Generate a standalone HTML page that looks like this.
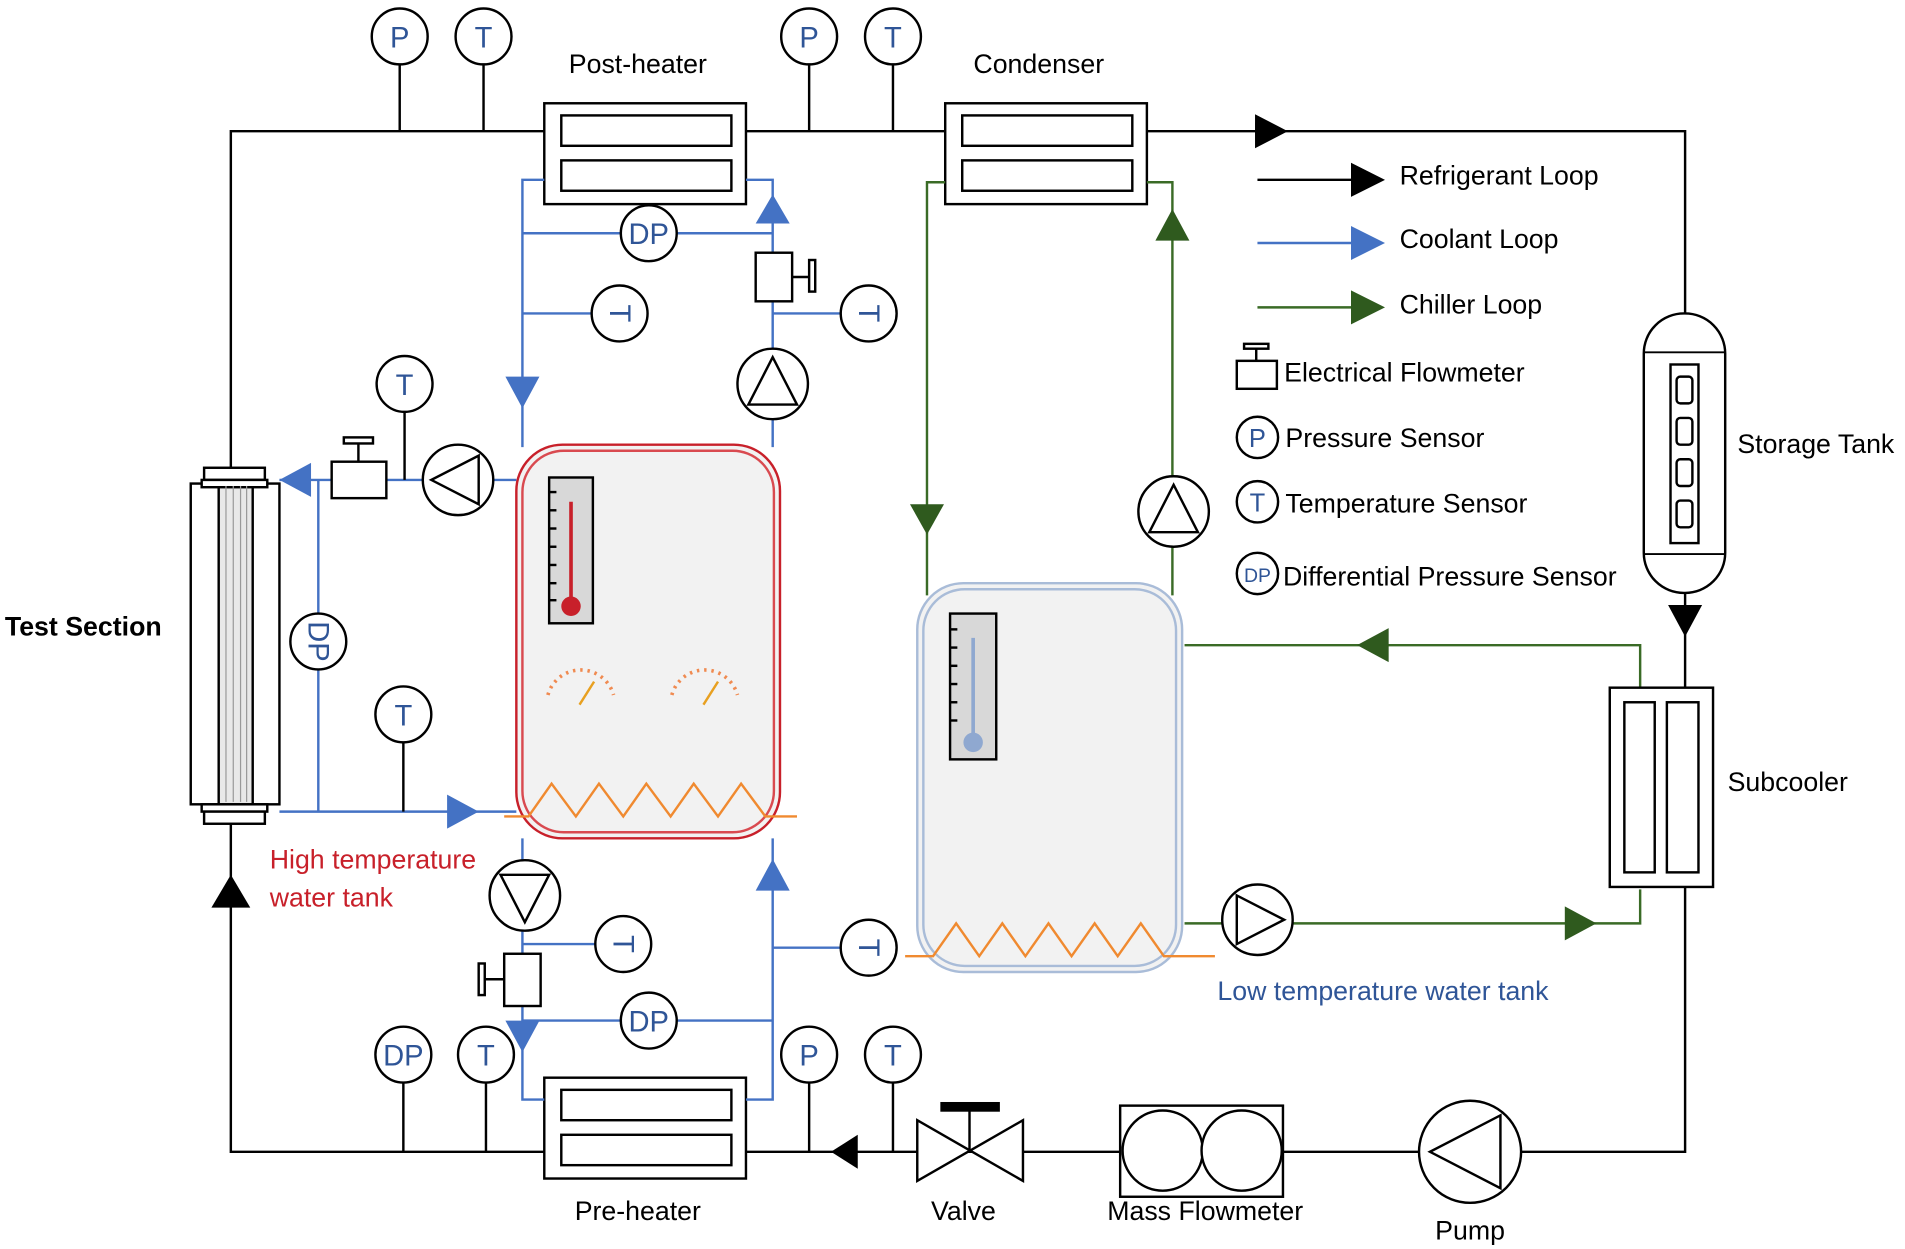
<!DOCTYPE html>
<html><head><meta charset="utf-8"><style>
html,body{margin:0;padding:0;background:#fff;}
svg{display:block}
text{font-family:"Liberation Sans","DejaVu Sans",sans-serif;}
</style></head><body>
<svg width="1905" height="1249" viewBox="0 0 1568 1028" preserveAspectRatio="none" xmlns="http://www.w3.org/2000/svg">
<defs>
<g id="ptri"><circle r="29" fill="#fff" stroke="#000" stroke-width="2"/><polygon points="-17,-20 -17,20 22,0" fill="#fff" stroke="#000" stroke-width="2"/></g>
<g id="fm"><rect x="-15" y="-18" width="30" height="36" fill="#fff" stroke="#000" stroke-width="2"/></g>
</defs>
<rect width="1568" height="1028" fill="#fff"/>
<!-- Refrigerant loop -->
<g stroke="#000" stroke-width="2" fill="none">
<path d="M190,388 V108 H1387 V948 H190 V678"/>
<line x1="329" y1="53" x2="329" y2="108"/><line x1="398" y1="53" x2="398" y2="108"/>
<line x1="666" y1="53" x2="666" y2="108"/><line x1="735" y1="53" x2="735" y2="108"/>
<line x1="332" y1="891" x2="332" y2="948"/><line x1="400" y1="891" x2="400" y2="948"/>
<line x1="666" y1="891" x2="666" y2="948"/><line x1="735" y1="891" x2="735" y2="948"/>
</g>
<polygon points="1033,94 1060,108 1033,122" fill="#000"/>
<polygon points="174,747 190,720 206,747" fill="#000"/>
<polygon points="1373,498 1401,498 1387,524" fill="#000"/>
<polygon points="706,934 684,948 706,962" fill="#000"/>
<!-- sensors -->
<g fill="#fff" stroke="#000" stroke-width="2">
<circle cx="329" cy="30" r="23"/><circle cx="398" cy="30" r="23"/><circle cx="666" cy="30" r="23"/><circle cx="735" cy="30" r="23"/>
<circle cx="332" cy="868" r="23"/><circle cx="400" cy="868" r="23"/><circle cx="666" cy="868" r="23"/><circle cx="735" cy="868" r="23"/>
</g>
<g fill="#2f5597" font-size="24" text-anchor="middle">
<text x="329" y="39">P</text><text x="398" y="39">T</text><text x="666" y="39">P</text><text x="735" y="39">T</text>
<text x="332" y="877">DP</text><text x="400" y="877">T</text><text x="666" y="877">P</text><text x="735" y="877">T</text>
</g>
<!-- Heat exchangers -->
<g fill="#fff" stroke="#000" stroke-width="2">
<rect x="448" y="85" width="166" height="83"/><rect x="462" y="95" width="140" height="25"/><rect x="462" y="132" width="140" height="25"/>
<rect x="778" y="85" width="166" height="83"/><rect x="792" y="95" width="140" height="25"/><rect x="792" y="132" width="140" height="25"/>
<rect x="448" y="887" width="166" height="83"/><rect x="462" y="897" width="140" height="25"/><rect x="462" y="934" width="140" height="25"/>
</g>
<!-- Coolant loop (blue) -->
<g stroke="#4472c4" stroke-width="2" fill="none">
<path d="M448,148 H430 V368"/><path d="M614,148 H636 V368"/>
<line x1="430" y1="192" x2="636" y2="192"/><line x1="430" y1="258" x2="488" y2="258"/><line x1="636" y1="258" x2="692" y2="258"/>
<line x1="230" y1="395" x2="425" y2="395"/><line x1="262" y1="395" x2="262" y2="668"/>
<line x1="230" y1="668" x2="425" y2="668"/>
<path d="M430,690 V905 H448"/><path d="M636,690 V905 H614"/>
<line x1="430" y1="777" x2="490" y2="777"/><line x1="430" y1="840" x2="636" y2="840"/><line x1="636" y1="780" x2="692" y2="780"/>
</g>
<g stroke="#000" stroke-width="2">
<line x1="333" y1="339" x2="333" y2="395"/><line x1="332" y1="611" x2="332" y2="668"/>
</g>
<g fill="#4472c4">
<polygon points="622,184 650,184 636,160"/><polygon points="416,310 444,310 430,336"/>
<polygon points="256,381 256,409 230,395"/><polygon points="368,654 368,682 394,668"/>
<polygon points="622,733 650,733 636,707"/><polygon points="416,840 444,840 430,866"/>
</g>
<!-- Green chiller loop -->
<g stroke="#3a6b26" stroke-width="2" fill="none">
<path d="M778,150 H763 V490"/><path d="M944,150 H965 V490"/>
<path d="M975,531 H1350 V566"/><path d="M975,760 H1350 V732"/>
</g>
<g fill="#2f5a1e">
<polygon points="749,415 777,415 763,440"/><polygon points="951,198 979,198 965,172"/>
<polygon points="1143,517 1143,545 1117,531"/><polygon points="1288,746 1288,774 1314,760"/>
</g>
<!-- pumps -->
<use href="#ptri" transform="translate(377,395) rotate(180)"/>
<use href="#ptri" transform="translate(636,316) rotate(-90)"/>
<use href="#ptri" transform="translate(432,737) rotate(90)"/>
<use href="#ptri" transform="translate(966,421) rotate(-90)"/>
<use href="#ptri" transform="translate(1035,757)"/>
<g transform="translate(1210,948) rotate(180)"><circle r="42" fill="#fff" stroke="#000" stroke-width="2"/><polygon points="-25,-30 -25,30 33,0" fill="#fff" stroke="#000" stroke-width="2"/></g>
<!-- flowmeters -->
<g fill="#fff" stroke="#000" stroke-width="2">
<rect x="273" y="380" width="45" height="30"/><line x1="295" y1="380" x2="295" y2="364"/><rect x="283" y="360" width="24" height="5"/>
<rect x="622" y="208" width="30" height="40"/><line x1="652" y1="228" x2="668" y2="228"/><rect x="666" y="214" width="5" height="26"/>
<rect x="415" y="785" width="30" height="43"/><line x1="415" y1="806" x2="399" y2="806"/><rect x="394" y="793" width="5" height="26"/>
</g>
<!-- T / DP sensors in coolant/chiller -->
<g fill="#fff" stroke="#000" stroke-width="2">
<circle cx="333" cy="316" r="23"/><circle cx="332" cy="588" r="23"/><circle cx="262" cy="528" r="23"/>
<circle cx="534" cy="192" r="23"/><circle cx="510" cy="258" r="23"/><circle cx="715" cy="258" r="23"/>
<circle cx="513" cy="777" r="23"/><circle cx="534" cy="840" r="23"/><circle cx="715" cy="780" r="23"/>
</g>
<g fill="#2f5597" font-size="24" text-anchor="middle">
<text x="333" y="325">T</text><text x="332" y="597">T</text>
<text x="262" y="528" transform="rotate(90 262 528)" dy="8">DP</text>
<text x="534" y="201">DP</text><text x="534" y="849">DP</text>
<text x="510" y="258" transform="rotate(90 510 258)" dy="8">T</text>
<text x="715" y="258" transform="rotate(90 715 258)" dy="8">T</text>
<text x="513" y="777" transform="rotate(90 513 777)" dy="8">T</text>
<text x="715" y="780" transform="rotate(90 715 780)" dy="8">T</text>
</g>
<!-- Test section -->
<g stroke="#000" stroke-width="2" fill="#fff">
<rect x="157" y="398" width="73" height="264"/>
<rect x="180" y="398" width="28" height="264" fill="#e8e8e8"/>
<rect x="168" y="385" width="50" height="10"/><rect x="166" y="395" width="54" height="6"/>
<rect x="166" y="662" width="54" height="6"/><rect x="168" y="668" width="50" height="10"/>
</g>
<g stroke="#999" stroke-width="1">
<line x1="186" y1="400" x2="186" y2="660"/><line x1="192" y1="400" x2="192" y2="660"/><line x1="198" y1="400" x2="198" y2="660"/><line x1="203" y1="400" x2="203" y2="660"/>
</g>
<!-- Red tank -->
<rect x="425" y="366" width="217" height="324" rx="38" fill="#f2f2f2" stroke="#c8202a" stroke-width="2"/>
<rect x="430" y="371" width="207" height="314" rx="34" fill="none" stroke="#d94a50" stroke-width="2"/>
<rect x="452" y="393" width="36" height="120" fill="#d8d8d8" stroke="#000" stroke-width="2"/>
<line x1="470" y1="413" x2="470" y2="495" stroke="#c8202a" stroke-width="3"/><circle cx="470" cy="499" r="8" fill="#c8202a"/>
<g stroke="#000" stroke-width="2"><line x1="452" y1="405" x2="458" y2="405"/><line x1="452" y1="420" x2="458" y2="420"/><line x1="452" y1="435" x2="458" y2="435"/><line x1="452" y1="450" x2="458" y2="450"/><line x1="452" y1="465" x2="458" y2="465"/><line x1="452" y1="480" x2="458" y2="480"/><line x1="452" y1="494" x2="458" y2="494"/></g>
<g fill="none" stroke-width="3" stroke-dasharray="2 4">
<path d="M451,572 A28,28 0 0 1 505,572" stroke="#f08a50"/><path d="M553,572 A28,28 0 0 1 607,572" stroke="#f08a50"/>
<path d="M785,673 A28,28 0 0 1 839,673" stroke="#9fb5d6"/><path d="M889,673 A28,28 0 0 1 943,673" stroke="#9fb5d6"/>
</g>
<g stroke-width="2"><line x1="477" y1="580" x2="489" y2="561" stroke="#e8a020"/><line x1="579" y1="580" x2="591" y2="561" stroke="#e8a020"/>
<line x1="811" y1="681" x2="823" y2="662" stroke="#9fb5d6"/><line x1="913" y1="681" x2="925" y2="662" stroke="#9fb5d6"/></g>
<polyline points="415,672 435,672 454,645 474,672 493,645 513,672 532,645 552,672 571,645 591,672 610,645 630,672 656,672" fill="none" stroke="#f08a30" stroke-width="2"/>
<!-- Blue tank -->
<rect x="755" y="480" width="218" height="320" rx="38" fill="#f2f2f2" stroke="#a9bcd8" stroke-width="2"/>
<rect x="760" y="485" width="208" height="310" rx="34" fill="none" stroke="#a9bcd8" stroke-width="2"/>
<rect x="782" y="505" width="38" height="120" fill="#d8d8d8" stroke="#000" stroke-width="2"/>
<line x1="801" y1="525" x2="801" y2="606" stroke="#8fa8d0" stroke-width="3"/><circle cx="801" cy="611" r="8" fill="#8fa8d0"/>
<g stroke="#000" stroke-width="2"><line x1="782" y1="518" x2="788" y2="518"/><line x1="782" y1="533" x2="788" y2="533"/><line x1="782" y1="548" x2="788" y2="548"/><line x1="782" y1="563" x2="788" y2="563"/><line x1="782" y1="578" x2="788" y2="578"/><line x1="782" y1="593" x2="788" y2="593"/></g>
<polyline points="745,787 768,787 787,760 806,787 825,760 844,787 863,760 882,787 901,760 920,787 939,760 958,787 1000,787" fill="none" stroke="#f08a30" stroke-width="2"/>
<!-- Storage tank -->
<rect x="1353" y="258" width="67" height="230" rx="33" fill="#fff" stroke="#000" stroke-width="2"/>
<line x1="1353" y1="290" x2="1420" y2="290" stroke="#000" stroke-width="1.5"/><line x1="1353" y1="456" x2="1420" y2="456" stroke="#000" stroke-width="1.5"/>
<rect x="1375" y="300" width="23" height="147" fill="#fff" stroke="#000" stroke-width="2"/>
<g fill="#fff" stroke="#000" stroke-width="2"><rect x="1380" y="310" width="13" height="22" rx="3"/><rect x="1380" y="344" width="13" height="22" rx="3"/><rect x="1380" y="378" width="13" height="22" rx="3"/><rect x="1380" y="412" width="13" height="22" rx="3"/></g>
<!-- Subcooler -->
<g fill="#fff" stroke="#000" stroke-width="2"><rect x="1325" y="566" width="85" height="164"/><rect x="1337" y="578" width="25" height="140"/><rect x="1372" y="578" width="26" height="140"/></g>
<!-- Mass flowmeter & valve -->
<g fill="#fff" stroke="#000" stroke-width="2">
<rect x="922" y="910" width="134" height="75"/><circle cx="957" cy="947" r="33"/><circle cx="1022" cy="947" r="33"/>
<polygon points="755,922 755,972 842,922 842,972"/><line x1="798" y1="947" x2="798" y2="914"/><rect x="775" y="908" width="47" height="6" fill="#000"/>
</g>
<!-- Legend -->
<g stroke-width="2">
<line x1="1035" y1="148" x2="1115" y2="148" stroke="#000"/><polygon points="1112,134 1140,148 1112,162" fill="#000"/>
<line x1="1035" y1="200" x2="1115" y2="200" stroke="#4472c4"/><polygon points="1112,186 1140,200 1112,214" fill="#4472c4"/>
<line x1="1035" y1="253" x2="1115" y2="253" stroke="#3a6b26"/><polygon points="1112,239 1140,253 1112,267" fill="#2f5a1e"/>
</g>
<g fill="#fff" stroke="#000" stroke-width="2">
<rect x="1018" y="297" width="33" height="23"/><line x1="1034" y1="297" x2="1034" y2="287"/><rect x="1024" y="283" width="20" height="4"/>
<circle cx="1035" cy="360" r="17"/><circle cx="1035" cy="413" r="17"/><circle cx="1035" cy="472" r="17"/>
</g>
<g fill="#2f5597" text-anchor="middle"><text x="1035" y="368" font-size="21">P</text><text x="1035" y="421" font-size="21">T</text><text x="1035" y="479" font-size="16">DP</text></g>
<g font-size="22" fill="#000">
<text x="1152" y="152">Refrigerant Loop</text><text x="1152" y="204">Coolant Loop</text><text x="1152" y="258">Chiller Loop</text>
<text x="1057" y="314">Electrical Flowmeter</text><text x="1058" y="368">Pressure Sensor</text><text x="1058" y="422">Temperature Sensor</text><text x="1056" y="482">Differential Pressure Sensor</text>
<text x="1430" y="373">Storage Tank</text><text x="1422" y="651">Subcooler</text>
<text x="525" y="60" text-anchor="middle">Post-heater</text><text x="855" y="60" text-anchor="middle">Condenser</text>
<text x="525" y="1004" text-anchor="middle">Pre-heater</text><text x="793" y="1004" text-anchor="middle">Valve</text>
<text x="992" y="1004" text-anchor="middle">Mass Flowmeter</text><text x="1210" y="1020" text-anchor="middle">Pump</text>
<text x="4" y="523" font-weight="bold">Test Section</text>
</g>
<g font-size="22" fill="#c8202a"><text x="222" y="715">High temperature</text><text x="222" y="746">water tank</text></g>
<text x="1002" y="823" font-size="22" fill="#2f5597">Low temperature water tank</text>
</svg>
</body></html>
